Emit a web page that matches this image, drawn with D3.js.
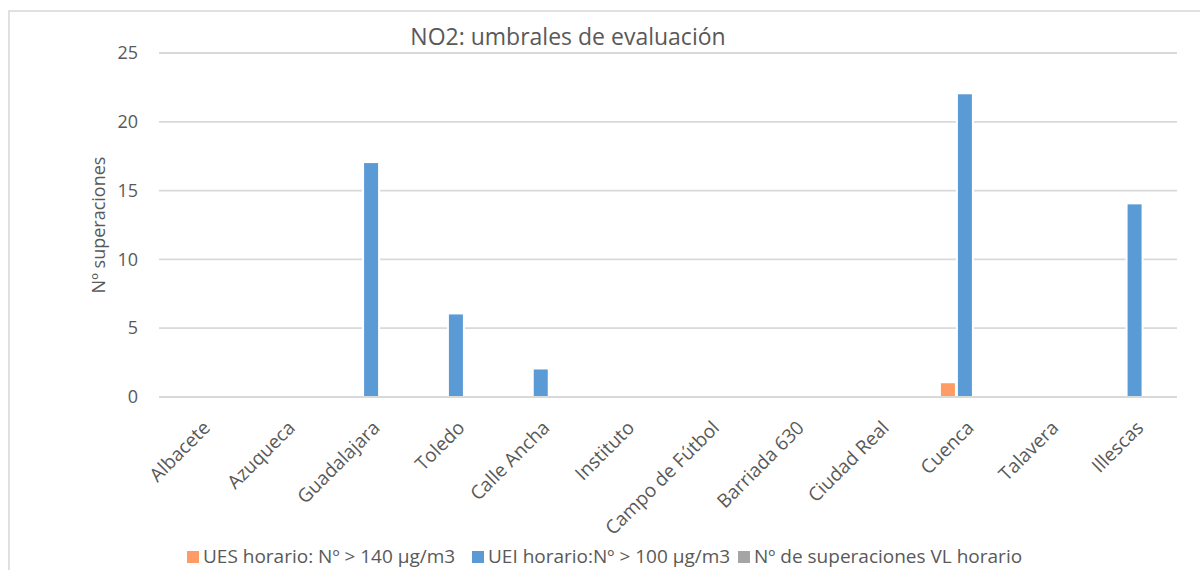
<!DOCTYPE html>
<html>
<head>
<meta charset="utf-8">
<script src="https://cdn.jsdelivr.net/npm/d3@7"></script>
<style>
  html, body { margin: 0; padding: 0; background: #ffffff; }
  svg { display: block; font-family: "Open Sans", "DejaVu Sans", sans-serif; }
</style>
</head>
<body>
<svg id="chart" width="1200" height="570"></svg>
<script>
// Estaciones de medida
const categories = ["Albacete", "Azuqueca", "Guadalajara", "Toledo", "Calle Ancha", "Instituto",
  "Campo de Fútbol", "Barriada 630", "Ciudad Real", "Cuenca", "Talavera", "Illescas"];

// Nº de superaciones por serie
const seriesNames = ["UES horario: Nº > 140 µg/m3", "UEI horario:Nº > 100 µg/m3", "Nº de superaciones VL horario"];
const uesValues = [0, 0, 0, 0, 0, 0, 0, 0, 0, 1, 0, 0];
const ueiValues = [0, 0, 17, 6, 2, 0, 0, 0, 0, 22, 0, 14];
const vlValues  = [0, 0, 0, 0, 0, 0, 0, 0, 0, 0, 0, 0];
const seriesColors = ["#FF9C66", "#5B9BD5", "#A5A5A5"];

const yTicks = [0, 5, 10, 15, 20, 25];
const titleText = "NO2: umbrales de evaluación";
const yLabelText = "Nº superaciones";

const seriesValues = [uesValues, ueiValues, vlValues];

const svg = d3.select("#chart");
const textColor = "#595959";
const gridColor = "#D9D9D9";

// Marco del gráfico
svg.append("rect")
  .attr("x", 9).attr("y", 11)
  .attr("width", 1250).attr("height", 650)
  .attr("fill", "none").attr("stroke", gridColor).attr("stroke-width", 1.6);

const plot = { left: 159, right: 1177, top: 53, bottom: 397 };

const x = d3.scaleBand().domain(categories).range([plot.left, plot.right]).padding(0);
const y = d3.scaleLinear().domain([0, 25]).range([plot.bottom, plot.top]);

const slot = 17;
const xs = d3.scaleBand().domain(d3.range(seriesNames.length))
  .range([-slot * 1.5, slot * 1.5]).padding(0);

// Líneas de cuadrícula
svg.append("g").selectAll("line").data(yTicks).join("line")
  .attr("x1", plot.left).attr("x2", plot.right)
  .attr("y1", d => y(d)).attr("y2", d => y(d))
  .attr("stroke", gridColor).attr("stroke-width", 1.8);

// Etiquetas del eje Y
const yAxis = d3.axisLeft(y).tickValues(yTicks).tickSize(0).tickPadding(21);
const gy = svg.append("g").attr("transform", `translate(${plot.left},0)`).call(yAxis);
gy.select(".domain").remove();
gy.selectAll("text").attr("fill", textColor).style("font-size", "18px")
  .style("font-family", "'Open Sans', sans-serif");

// Barras
const bars = [];
seriesValues.forEach((vals, s) => {
  vals.forEach((v, i) => { if (v > 0) bars.push({ s, cat: categories[i], v }); });
});
const barW = 14;
const bx = d => x(d.cat) + x.bandwidth() / 2 + xs(d.s) + (slot - barW) / 2;

const gb = svg.append("g");
// borde blanco alrededor de cada barra
gb.selectAll("rect.halo").data(bars).join("rect").attr("class", "halo")
  .attr("x", d => bx(d) - 2).attr("y", d => y(d.v) - 2)
  .attr("width", barW + 4).attr("height", d => y(0) - y(d.v) + 1)
  .attr("fill", "#ffffff");
gb.selectAll("rect.bar").data(bars).join("rect").attr("class", "bar")
  .attr("x", d => bx(d)).attr("y", d => y(d.v))
  .attr("width", barW).attr("height", d => y(0) - y(d.v) - 1)
  .attr("fill", d => seriesColors[d.s]);

// Línea base
svg.append("line")
  .attr("x1", plot.left).attr("x2", plot.right)
  .attr("y1", y(0)).attr("y2", y(0))
  .attr("stroke", gridColor).attr("stroke-width", 1.8);

// Etiquetas de categorías
const xAxis = d3.axisBottom(x).tickSize(0).tickPadding(0);
const gx = svg.append("g").attr("transform", `translate(0,${plot.bottom})`).call(xAxis);
gx.select(".domain").remove();
gx.selectAll("text")
  .attr("fill", textColor).style("font-size", "19px")
  .style("font-family", "'Open Sans', sans-serif")
  .attr("text-anchor", "end")
  .attr("dy", 0).attr("y", 0)
  .attr("transform", "translate(10,32) rotate(-45)");

// Título
svg.append("text")
  .attr("x", 568).attr("y", 45)
  .attr("text-anchor", "middle")
  .attr("fill", textColor).style("font-size", "23px")
  .text(titleText);

// Título del eje Y
svg.append("text")
  .attr("transform", `translate(105,${(plot.top + plot.bottom) / 2}) rotate(-90)`)
  .attr("text-anchor", "middle")
  .attr("fill", textColor).style("font-size", "18px")
  .text(yLabelText);

// Leyenda
const legendX = [187, 472, 738];
const lg = svg.append("g");
seriesNames.forEach((name, i) => {
  lg.append("rect")
    .attr("x", legendX[i]).attr("y", 551)
    .attr("width", 12).attr("height", 12)
    .attr("fill", seriesColors[i]);
  lg.append("text")
    .attr("x", legendX[i] + 16).attr("y", 563)
    .attr("fill", textColor).style("font-size", "19px")
    .text(name);
});
</script>
</body>
</html>
